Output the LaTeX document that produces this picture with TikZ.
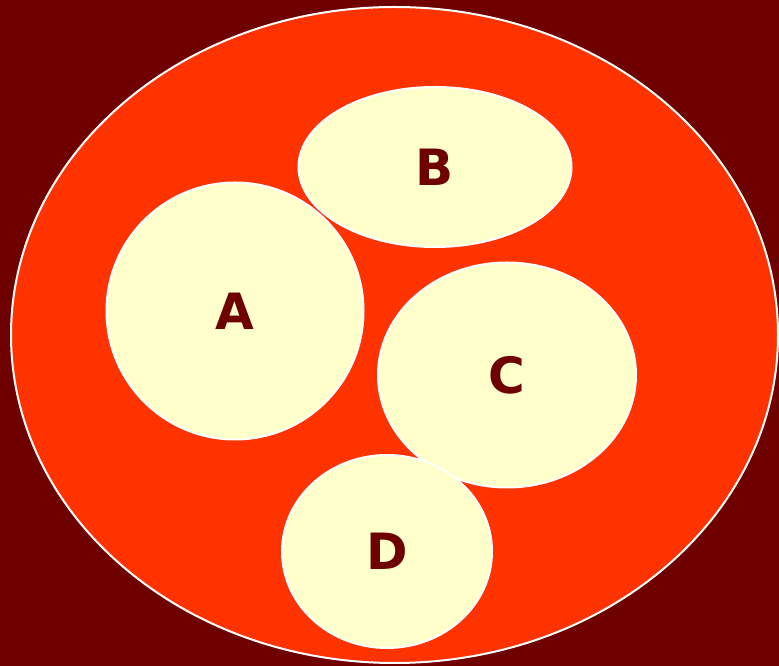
\documentclass[tikz,border=0pt]{standalone}
\usepackage{fontspec}
\setsansfont{DejaVu Sans}
\usetikzlibrary{shapes.geometric}
\definecolor{maroon}{HTML}{6E0000}
\definecolor{setred}{HTML}{FF3300}
\definecolor{setfill}{HTML}{FFFFCC}

\begin{document}
\begin{tikzpicture}[x=1pt,y=1pt,line join=round,
  subset/.style={ellipse,draw=white,line width=2pt,fill=setfill,inner sep=0pt,
    font=\sffamily\bfseries\fontsize{50}{50}\selectfont,text=maroon}]
  \useasboundingbox (0,0) rectangle (779,666);
  % ---- background ----
  \fill[maroon] (0,0) rectangle (779,666);
  % ---- universe ----
  \draw[white,line width=2pt,fill=setred] (394.5,331) ellipse (383.5 and 328);
  % ---- subsets ----
  \node[subset,minimum width=257,minimum height=257] (setA) at (235,355) {A};
  \node[subset,minimum width=273,minimum height=160] (setB) at (435,499) {B};
  \node[subset,minimum width=258,minimum height=225] (setC) at (507,291) {C};
  \node[subset,minimum width=210,minimum height=193] (setD) at (387,114.5) {D};
\end{tikzpicture}
\end{document}
